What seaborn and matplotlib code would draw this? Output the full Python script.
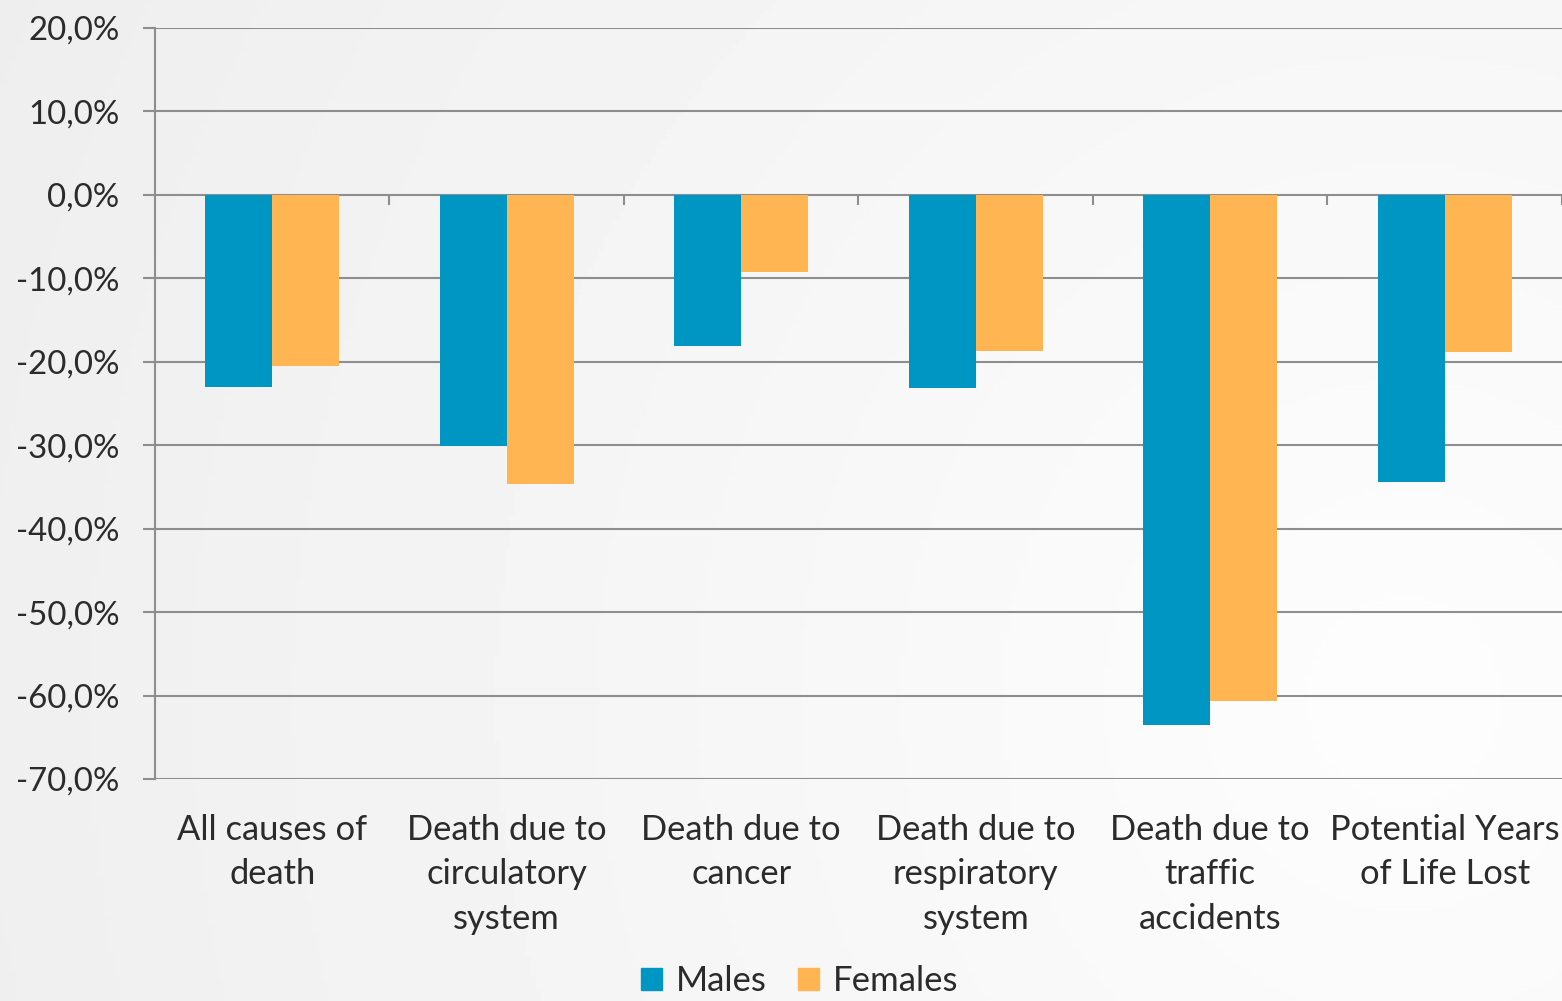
import numpy as np
import pandas as pd
import seaborn as sns
import matplotlib.pyplot as plt
from matplotlib.ticker import FuncFormatter, MultipleLocator

# data (percent change)
categories = ["All causes of\ndeath", "Death due to\ncirculatory\nsystem",
              "Death due to\ncancer", "Death due to\nrespiratory\nsystem",
              "Death due to\ntraffic\naccidents", "Potential Years\nof Life Lost"]
males = [-23.0, -30.1, -18.1, -23.1, -63.5, -34.4]
females = [-20.5, -34.7, -9.2, -18.7, -60.7, -18.8]
series = ["Males", "Females"]
colors = ["#0096C4", "#FFB552"]

df = pd.DataFrame({"cause": categories * 2,
                   "sex": ["Males"] * len(categories) + ["Females"] * len(categories),
                   "value": males + females})

sns.set_theme(style="white")
plt.rcParams['font.family'] = ['Lato', 'DejaVu Sans']
txt = "#2B2B2B"
grid_c = "#8E8E8E"

fig = plt.figure(figsize=(15.62, 10.01), dpi=100)

# soft grey gradient background, lighter towards the lower right
bg = fig.add_axes([0, 0, 1, 1], zorder=-10)
yy, xx = np.mgrid[0:1:200j, 0:1:300j]
r = np.sqrt((xx - 0.9) ** 2 + (0.6 * (yy - 0.3)) ** 2)
bg.imshow(0.992 - 0.06 * np.clip(r, 0, 1), cmap="gray", vmin=0, vmax=1,
          aspect="auto", extent=[0, 1, 0, 1], origin="lower")
bg.axis("off")

ax = fig.add_axes([0.0992, 0.2218, 0.9008, 0.7502])
ax.patch.set_alpha(0)
sns.barplot(data=df, x="cause", y="value", hue="sex", hue_order=series,
            palette=colors, width=0.57, saturation=1, linewidth=0,
            ax=ax, legend=False, zorder=3)

ax.set_ylim(-70, 20)
ax.set_xlim(-0.5, len(categories) - 0.5)
ax.yaxis.set_major_locator(MultipleLocator(10))
ax.yaxis.set_major_formatter(FuncFormatter(lambda v, p: f"{v:.1f}%".replace(".", ",")))
ax.grid(axis="y", color=grid_c, linewidth=1.5, zorder=0)
ax.set_axisbelow(True)
for s in ["top", "right", "bottom"]:
    ax.spines[s].set_visible(False)
ax.spines["left"].set_color(grid_c)
ax.spines["left"].set_linewidth(1.5)
ax.tick_params(axis="y", length=8.6, width=1.5, color=grid_c, left=True,
               labelsize=23.8, labelcolor=txt, pad=17)
ax.tick_params(axis="x", length=0, labelsize=24.8, labelcolor=txt, pad=25)
for lab in ax.get_xticklabels():
    lab.set_linespacing(1.49)
ax.set_xlabel("")
ax.set_ylabel("")

# category boundary ticks on the zero line
bounds = np.arange(len(categories) + 1) - 0.5
ax.vlines(bounds[1:], -1.2, 0, color=grid_c, linewidth=1.5, zorder=2)

handles = [plt.Rectangle((0, 0), 1, 1, color=c) for c in colors]
fig.legend(handles, series, loc="center", bbox_to_anchor=(0.512, 0.02),
           ncol=2, frameon=False, fontsize=25, handlelength=0.6,
           handleheight=0.6, handletextpad=0.4, columnspacing=0.92,
           labelcolor=txt, borderpad=0.1)

fig.savefig("out.png", dpi=100)
